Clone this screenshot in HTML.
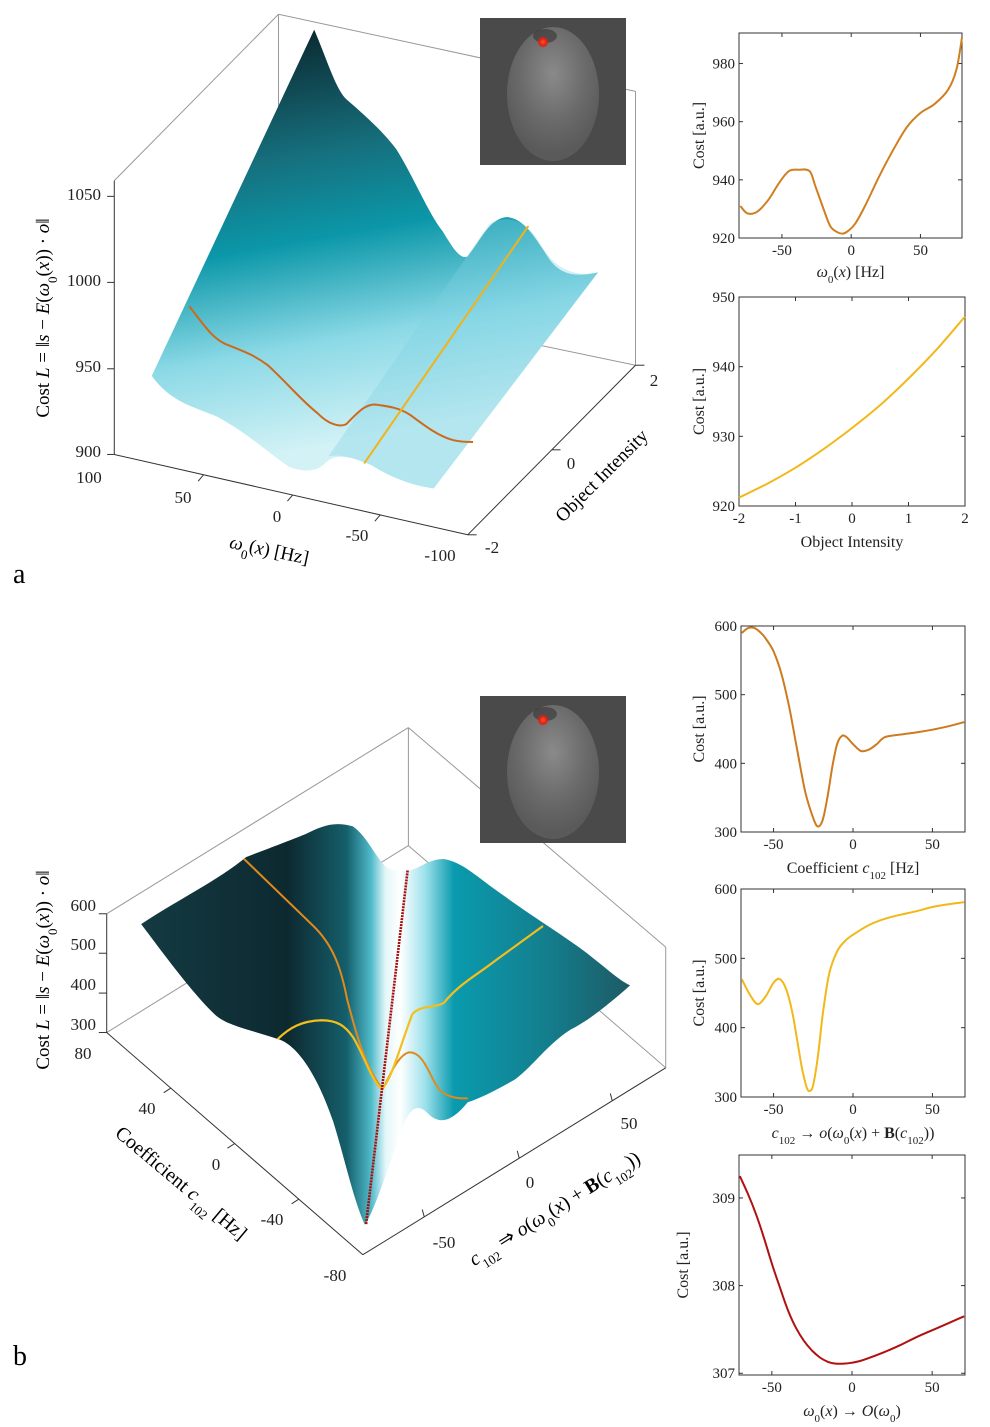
<!DOCTYPE html>
<html><head><meta charset="utf-8">
<style>
html,body{margin:0;padding:0;background:#fff;}
svg{display:block;font-family:"Liberation Serif",serif;}
</style></head>
<body>
<svg id="fig" width="990" height="1427" viewBox="0 0 990 1427" xmlns="http://www.w3.org/2000/svg">
<defs>
<linearGradient id="gTop" gradientUnits="userSpaceOnUse" x1="560" y1="60" x2="760" y2="1200">
<stop offset="0" stop-color="#0b2a31"/><stop offset="0.3" stop-color="#16707e"/><stop offset="0.5" stop-color="#0b97a8"/><stop offset="0.75" stop-color="#8bd9e6"/><stop offset="1" stop-color="#d2f2f6"/>
</linearGradient>
<linearGradient id="gBot" gradientUnits="userSpaceOnUse" x1="205" y1="0" x2="1440" y2="0">
<stop offset="0" stop-color="#143a42"/><stop offset="0.3" stop-color="#0d2930"/><stop offset="0.42" stop-color="#155f6b"/><stop offset="0.47" stop-color="#4fb9c9"/><stop offset="0.5" stop-color="#e4f7fa"/><stop offset="0.53" stop-color="#ffffff"/><stop offset="0.58" stop-color="#9fe2ec"/><stop offset="0.64" stop-color="#0a9aae"/><stop offset="0.82" stop-color="#13808f"/><stop offset="1" stop-color="#1d5a65"/>
</linearGradient>
<radialGradient id="gBrain" cx="0.5" cy="0.35" r="0.6">
<stop offset="0" stop-color="#8a8a8a"/><stop offset="0.6" stop-color="#6a6a6a"/><stop offset="1" stop-color="#5a5a5a"/>
</radialGradient>
<radialGradient id="gDot"><stop offset="0" stop-color="#ff5030"/><stop offset="0.6" stop-color="#e02010"/><stop offset="1" stop-color="#e02010" stop-opacity="0"/></radialGradient>
</defs>

<!-- ===== Panel a 3D ===== -->
<g fill="none" stroke="#888" stroke-width="1">
<g transform="translate(100,10) scale(0.357)">
<g stroke="#999">
<line x1="500" y1="12" x2="40" y2="478" vector-effect="non-scaling-stroke"/>
<line x1="500" y1="12" x2="1500" y2="228" vector-effect="non-scaling-stroke"/>
<line x1="500" y1="12" x2="500" y2="700" vector-effect="non-scaling-stroke"/>
<line x1="1500" y1="228" x2="1500" y2="995" vector-effect="non-scaling-stroke"/>
<line x1="900" y1="870" x2="1500" y2="995" vector-effect="non-scaling-stroke"/>
</g>
<g stroke="#333">
<line x1="40" y1="478" x2="40" y2="1245" vector-effect="non-scaling-stroke"/>
<line x1="40" y1="1245" x2="1030" y2="1470" vector-effect="non-scaling-stroke"/>
<line x1="1030" y1="1470" x2="1500" y2="995" vector-effect="non-scaling-stroke"/>
<line x1="40" y1="522" x2="20" y2="522" vector-effect="non-scaling-stroke"/>
<line x1="40" y1="763" x2="20" y2="763" vector-effect="non-scaling-stroke"/>
<line x1="40" y1="1005" x2="20" y2="1005" vector-effect="non-scaling-stroke"/>
<line x1="40" y1="1245" x2="20" y2="1245" vector-effect="non-scaling-stroke"/>
<line x1="290" y1="1302" x2="275" y2="1320" vector-effect="non-scaling-stroke"/>
<line x1="540" y1="1358" x2="525" y2="1376" vector-effect="non-scaling-stroke"/>
<line x1="785" y1="1414" x2="770" y2="1432" vector-effect="non-scaling-stroke"/>
<line x1="1030" y1="1470" x2="1055" y2="1470" vector-effect="non-scaling-stroke"/>
<line x1="1265" y1="1232" x2="1290" y2="1232" vector-effect="non-scaling-stroke"/>
<line x1="1500" y1="995" x2="1525" y2="995" vector-effect="non-scaling-stroke"/>
</g>
<path stroke="none" fill="url(#gTop)" d="M145,1025 L600,55 C640,150 660,220 690,250 C760,310 800,350 830,390 C880,470 920,570 960,620 C990,670 1010,700 1030,690 C1070,640 1090,585 1140,580 C1190,585 1220,640 1260,700 C1290,740 1330,750 1395,735 L935,1340 C860,1330 800,1300 760,1275 C700,1250 660,1240 630,1270 C600,1300 560,1290 530,1280 C470,1240 420,1190 330,1140 C260,1110 200,1100 145,1025 Z"/>
<path stroke="none" fill="#7dd2e2" opacity="0.35" d="M640,1250 L1090,600 C1130,575 1190,580 1230,650 C1270,720 1320,750 1395,735 L935,1340 C860,1330 800,1300 760,1275 C700,1250 670,1245 640,1250 Z"/>
<path stroke="#cc6a1c" stroke-width="2" vector-effect="non-scaling-stroke" d="M250,830 C290,880 310,915 350,935 C400,955 430,965 470,995 C520,1040 560,1090 610,1130 C640,1160 670,1170 690,1160 C720,1130 740,1105 770,1105 C810,1110 840,1115 870,1135 C910,1165 950,1195 990,1205 C1010,1210 1030,1210 1045,1210"/>
<line x1="740" y1="1270" x2="1200" y2="605" stroke="#f2b21a" stroke-width="2" vector-effect="non-scaling-stroke"/>
</g>
</g>
<g font-size="17" fill="#222" text-anchor="end">
<text x="101" y="200">1050</text><text x="101" y="286">1000</text><text x="101" y="372">950</text><text x="101" y="457">900</text>
</g>
<g font-size="17" fill="#222" text-anchor="middle">
<text x="89" y="483">100</text><text x="183" y="503">50</text><text x="277" y="522">0</text><text x="357" y="541">-50</text><text x="440" y="561">-100</text>
</g>
<g font-size="17" fill="#222" text-anchor="middle">
<text x="654" y="386">2</text><text x="571" y="469">0</text><text x="492" y="553">-2</text>
</g>
<text transform="translate(49,318) rotate(-90)" font-size="19" text-anchor="middle">Cost <tspan font-style="italic">L</tspan> = ‖<tspan font-style="italic">s</tspan> − <tspan font-style="italic">E</tspan>(<tspan font-style="italic">ω</tspan><tspan font-size="13" baseline-shift="sub">0</tspan>(<tspan font-style="italic">x</tspan>)) · <tspan font-style="italic">o</tspan>‖</text>
<text transform="translate(268,556) rotate(12)" font-size="19" text-anchor="middle"><tspan font-style="italic">ω</tspan><tspan font-size="13" baseline-shift="sub">0</tspan>(<tspan font-style="italic">x</tspan>) [Hz]</text>
<text transform="translate(606,480) rotate(-45)" font-size="19" text-anchor="middle">Object Intensity</text>

<g>
<rect x="480" y="18" width="146" height="147" fill="#4a4a4a"/>
<ellipse cx="553" cy="94" rx="46" ry="67" fill="url(#gBrain)"/>
<ellipse cx="545" cy="36" rx="12" ry="7" fill="#222" opacity="0.45"/>
<circle cx="543" cy="42" r="6" fill="url(#gDot)"/>
</g>

<!-- ===== Panel b 3D ===== -->
<g fill="none">
<g transform="translate(60,700) scale(0.3959,0.3831)">
<g stroke="#999">
<line x1="118" y1="558" x2="880" y2="72" vector-effect="non-scaling-stroke"/>
<line x1="880" y1="72" x2="1530" y2="645" vector-effect="non-scaling-stroke"/>
<line x1="880" y1="72" x2="880" y2="380" vector-effect="non-scaling-stroke"/>
<line x1="1530" y1="645" x2="1530" y2="960" vector-effect="non-scaling-stroke"/>
<line x1="118" y1="868" x2="880" y2="380" vector-effect="non-scaling-stroke"/>
<line x1="880" y1="380" x2="1530" y2="960" vector-effect="non-scaling-stroke"/>
</g>
<g stroke="#333">
<line x1="118" y1="558" x2="118" y2="868" vector-effect="non-scaling-stroke"/>
<line x1="118" y1="868" x2="765" y2="1448" vector-effect="non-scaling-stroke"/>
<line x1="765" y1="1448" x2="1530" y2="960" vector-effect="non-scaling-stroke"/>
<line x1="118" y1="558" x2="98" y2="558" vector-effect="non-scaling-stroke"/>
<line x1="118" y1="661" x2="98" y2="661" vector-effect="non-scaling-stroke"/>
<line x1="118" y1="765" x2="98" y2="765" vector-effect="non-scaling-stroke"/>
<line x1="118" y1="868" x2="98" y2="868" vector-effect="non-scaling-stroke"/>
<line x1="280" y1="1013" x2="262" y2="1025" vector-effect="non-scaling-stroke"/>
<line x1="441" y1="1158" x2="423" y2="1170" vector-effect="non-scaling-stroke"/>
<line x1="603" y1="1303" x2="585" y2="1315" vector-effect="non-scaling-stroke"/>
<line x1="920" y1="1349" x2="915" y2="1330" vector-effect="non-scaling-stroke"/>
<line x1="1160" y1="1196" x2="1155" y2="1177" vector-effect="non-scaling-stroke"/>
<line x1="1395" y1="1046" x2="1390" y2="1027" vector-effect="non-scaling-stroke"/>
</g>
<path fill="url(#gBot)" d="M205,585 C300,520 400,470 470,410 C520,390 560,375 620,350 C660,330 690,315 740,330 C780,360 800,420 830,440 C860,450 870,445 880,445 C910,440 930,415 970,415 C1020,425 1050,460 1120,510 C1200,570 1280,620 1330,660 C1380,700 1410,730 1440,745 C1380,800 1330,840 1290,860 C1230,900 1200,950 1150,990 C1100,1020 1060,1040 1030,1050 C990,1100 960,1110 930,1080 C900,1050 880,1060 850,1160 C820,1250 790,1340 770,1370 C740,1300 720,1200 690,1100 C650,980 600,900 550,885 C480,860 420,850 390,820 C330,760 260,660 205,585 Z"/>
<path stroke="#e08a1e" stroke-width="2" vector-effect="non-scaling-stroke" d="M465,415 C520,470 580,530 640,590 C690,640 710,700 725,780 C745,860 770,960 815,1015 C830,990 850,930 880,920 C920,915 935,990 960,1020 C985,1040 1010,1040 1030,1040"/>
<path stroke="#f4bf1c" stroke-width="2.2" vector-effect="non-scaling-stroke" d="M550,885 C580,855 610,838 660,836 C700,836 720,850 740,880 C765,920 785,990 812,1015 C835,1000 860,900 890,820 C910,795 950,805 970,790 C1010,740 1050,720 1100,680 C1140,650 1180,620 1220,590"/>
<line x1="878" y1="445" x2="773" y2="1370" stroke="#a80c0c" stroke-width="2.6" stroke-dasharray="2 1" vector-effect="non-scaling-stroke"/>
</g>
</g>
<g font-size="17" fill="#222" text-anchor="end">
<text x="96" y="911">600</text><text x="96" y="950">500</text><text x="96" y="990">400</text><text x="96" y="1030">300</text>
</g>
<g font-size="17" fill="#222" text-anchor="middle">
<text x="83" y="1059">80</text><text x="147" y="1114">40</text><text x="216" y="1170">0</text><text x="272" y="1225">-40</text><text x="335" y="1281">-80</text>
</g>
<g font-size="17" fill="#222" text-anchor="middle">
<text x="444" y="1248">-50</text><text x="530" y="1188">0</text><text x="629" y="1129">50</text>
</g>
<text transform="translate(49,970) rotate(-90)" font-size="19" text-anchor="middle">Cost <tspan font-style="italic">L</tspan> = ‖<tspan font-style="italic">s</tspan> − <tspan font-style="italic">E</tspan>(<tspan font-style="italic">ω</tspan><tspan font-size="13" baseline-shift="sub">0</tspan>(<tspan font-style="italic">x</tspan>)) · <tspan font-style="italic">o</tspan>‖</text>
<text transform="translate(177,1188) rotate(40)" font-size="20" text-anchor="middle">Coefficient <tspan font-style="italic">c</tspan><tspan font-size="13" baseline-shift="sub">102</tspan> [Hz]</text>
<text transform="translate(558,1214) rotate(-32)" font-size="20" text-anchor="middle"><tspan font-style="italic">c</tspan><tspan font-size="13" baseline-shift="sub">102</tspan> ⇒ <tspan font-style="italic">o</tspan>(<tspan font-style="italic">ω</tspan><tspan font-size="13" baseline-shift="sub">0</tspan>(<tspan font-style="italic">x</tspan>) + <tspan font-weight="bold">B</tspan>(<tspan font-style="italic">c</tspan><tspan font-size="13" baseline-shift="sub">102</tspan>))</text>

<g>
<rect x="480" y="696" width="146" height="147" fill="#4a4a4a"/>
<ellipse cx="553" cy="772" rx="46" ry="67" fill="url(#gBrain)"/>
<ellipse cx="545" cy="714" rx="12" ry="7" fill="#222" opacity="0.45"/>
<circle cx="543" cy="720" r="6" fill="url(#gDot)"/>
</g>

<text x="13" y="583" font-size="28">a</text>
<text x="13" y="1365" font-size="28">b</text>

<g id="plots"></g>
</svg>

<script>
// ---- Plot a1: cost vs omega0 ----
const a1X = [-80,-75,-68,-60,-52,-45,-38,-30,-26,-20,-15,-10,-6,-2,3,10,20,30,40,50,60,70,76,80];
const a1Y = [931,928.5,929,933,939,943,943.5,943,938,930,924,922,921.5,922.5,925,931,941,950,958,963,966,971,978,989];
const a1XTicks = [-50,0,50];
const a1YTicks = [920,940,960,980];
// ---- Plot a2: cost vs object intensity ----
const a2X = [-2,-1.5,-1,-0.5,0,0.5,1,1.5,2];
const a2Y = [921.2,923.2,925.5,928.2,931.2,934.5,938.3,942.5,947.2];
const a2XTicks = [-2,-1,0,1,2];
const a2YTicks = [920,930,940,950];
// ---- Plot b1: cost vs coefficient ----
const b1X = [-70,-66,-62,-58,-55,-50,-45,-40,-35,-30,-25,-22,-19,-16,-13,-10,-7,-4,0,5,10,15,20,30,40,50,60,70];
const b1Y = [590,597,597,590,582,563,530,480,418,358,320,308,318,352,395,428,440,438,428,418,420,428,438,442,445,449,454,460];
const b1XTicks = [-50,0,50];
const b1YTicks = [300,400,500,600];
// ---- Plot b2: coefficient -> intensity ----
const b2X = [-70,-65,-60,-55,-50,-46,-42,-38,-35,-32,-29,-27,-25,-22,-19,-15,-10,-5,0,10,20,30,40,50,60,70];
const b2Y = [470,448,434,445,465,470,455,420,380,340,313,309,318,360,420,478,510,525,534,548,557,563,568,574,578,581];
const b2XTicks = [-50,0,50];
const b2YTicks = [300,400,500,600];
// ---- Plot b3: omega -> O ----
const b3X = [-70,-65,-60,-55,-50,-45,-40,-35,-30,-25,-20,-15,-10,-5,0,5,10,20,30,40,50,60,70];
const b3Y = [309.25,309.05,308.82,308.55,308.25,307.98,307.72,307.52,307.37,307.26,307.18,307.13,307.11,307.11,307.12,307.14,307.17,307.24,307.32,307.41,307.49,307.57,307.65];
const b3XTicks = [-50,0,50];
const b3YTicks = [307,308,309];

const NS = "http://www.w3.org/2000/svg";
const root = document.getElementById('plots');
function mk(tag, attrs, parent){const e=document.createElementNS(NS,tag);for(const k in attrs)e.setAttribute(k,attrs[k]);parent.appendChild(e);return e;}

function smooth(pts){
  let d = "M"+pts[0][0].toFixed(1)+","+pts[0][1].toFixed(1);
  for(let i=0;i<pts.length-1;i++){
    const p0=pts[Math.max(i-1,0)],p1=pts[i],p2=pts[i+1],p3=pts[Math.min(i+2,pts.length-1)];
    const c1=[p1[0]+(p2[0]-p0[0])/6,p1[1]+(p2[1]-p0[1])/6];
    const c2=[p2[0]-(p3[0]-p1[0])/6,p2[1]-(p3[1]-p1[1])/6];
    d+=" C"+c1[0].toFixed(1)+","+c1[1].toFixed(1)+" "+c2[0].toFixed(1)+","+c2[1].toFixed(1)+" "+p2[0].toFixed(1)+","+p2[1].toFixed(1);
  }
  return d;
}

function plot(name, box, xdom, ydom, xs, ys, xt, yt, color, xlabelHTML, xlabelY, ylabelX){
  const g = mk('g',{},root);
  
  
  const [L,T,R,B] = box;
  const sx = v => L + (v-xdom[0])/(xdom[1]-xdom[0])*(R-L);
  const sy = v => B - (v-ydom[0])/(ydom[1]-ydom[0])*(B-T);
  const frame = mk('rect',{x:L,y:T,width:R-L,height:B-T,fill:'none',stroke:'#333','stroke-width':1},g);
  
  
  xt.forEach(v=>{
    const x=sx(v);
    mk('line',{x1:x,y1:B,x2:x,y2:B-4,stroke:'#333'},g);
    mk('line',{x1:x,y1:T,x2:x,y2:T+4,stroke:'#333'},g);
    const t=mk('text',{x:x,y:B+17,'font-size':15,'text-anchor':'middle',fill:'#222'},g);
    
    
    t.textContent=v;
  });
  yt.forEach(v=>{
    const y=sy(v);
    mk('line',{x1:L,y1:y,x2:L+4,y2:y,stroke:'#333'},g);
    mk('line',{x1:R,y1:y,x2:R-4,y2:y,stroke:'#333'},g);
    const t=mk('text',{x:L-4,y:y+5,'font-size':15,'text-anchor':'end',fill:'#222'},g);
    
    
    t.textContent=v;
  });
  const pts = xs.map((v,i)=>[sx(v),sy(ys[i])]);
  const p = mk('path',{d:smooth(pts),fill:'none',stroke:color,'stroke-width':2},g);
  
  
  const xl = mk('text',{x:(L+R)/2,y:xlabelY,'font-size':16,'text-anchor':'middle',fill:'#222'},g);
  
  
  xl.innerHTML = xlabelHTML;
  const yl = mk('text',{transform:'translate('+ylabelX+','+((T+B)/2)+') rotate(-90)','font-size':16,'text-anchor':'middle',fill:'#222'},g);
  
  
  yl.textContent = 'Cost [a.u.]';
}

const sub = s => '<tspan font-size="11" baseline-shift="sub">'+s+'</tspan>';
plot('omega-cost-plot',[739,33,962,238],[-81,80],[920,990.5],a1X,a1Y,a1XTicks,a1YTicks,'#d07f1f',
  '<tspan font-style="italic">ω</tspan>'+sub('0')+'(<tspan font-style="italic">x</tspan>) [Hz]',277,704);
plot('intensity-cost-plot',[739,297,965,506],[-2,2],[920,950],a2X,a2Y,a2XTicks,a2YTicks,'#f2b81a',
  'Object Intensity',547,704);
plot('coefficient-cost-plot',[741,626,965,832],[-70.5,70.5],[300,600],b1X,b1Y,b1XTicks,b1YTicks,'#cf7a1e',
  'Coefficient <tspan font-style="italic">c</tspan>'+sub('102')+' [Hz]',873,704);
plot('coefficient-intensity-cost-plot',[741,889,965,1097],[-70.5,70.5],[300,600],b2X,b2Y,b2XTicks,b2YTicks,'#f2b81a',
  '<tspan font-style="italic">c</tspan>'+sub('102')+' → <tspan font-style="italic">o</tspan>(<tspan font-style="italic">ω</tspan>'+sub('0')+'(<tspan font-style="italic">x</tspan>) + <tspan font-weight="bold">B</tspan>(<tspan font-style="italic">c</tspan>'+sub('102')+'))',1138,704);
plot('omega-object-cost-plot',[739,1155,965,1375],[-70.5,70.5],[306.98,309.49],b3X,b3Y,b3XTicks,b3YTicks,'#b01010',
  '<tspan font-style="italic">ω</tspan>'+sub('0')+'(<tspan font-style="italic">x</tspan>) → <tspan font-style="italic">O</tspan>(<tspan font-style="italic">ω</tspan>'+sub('0')+')',1416,688);
</script>
</body></html>
